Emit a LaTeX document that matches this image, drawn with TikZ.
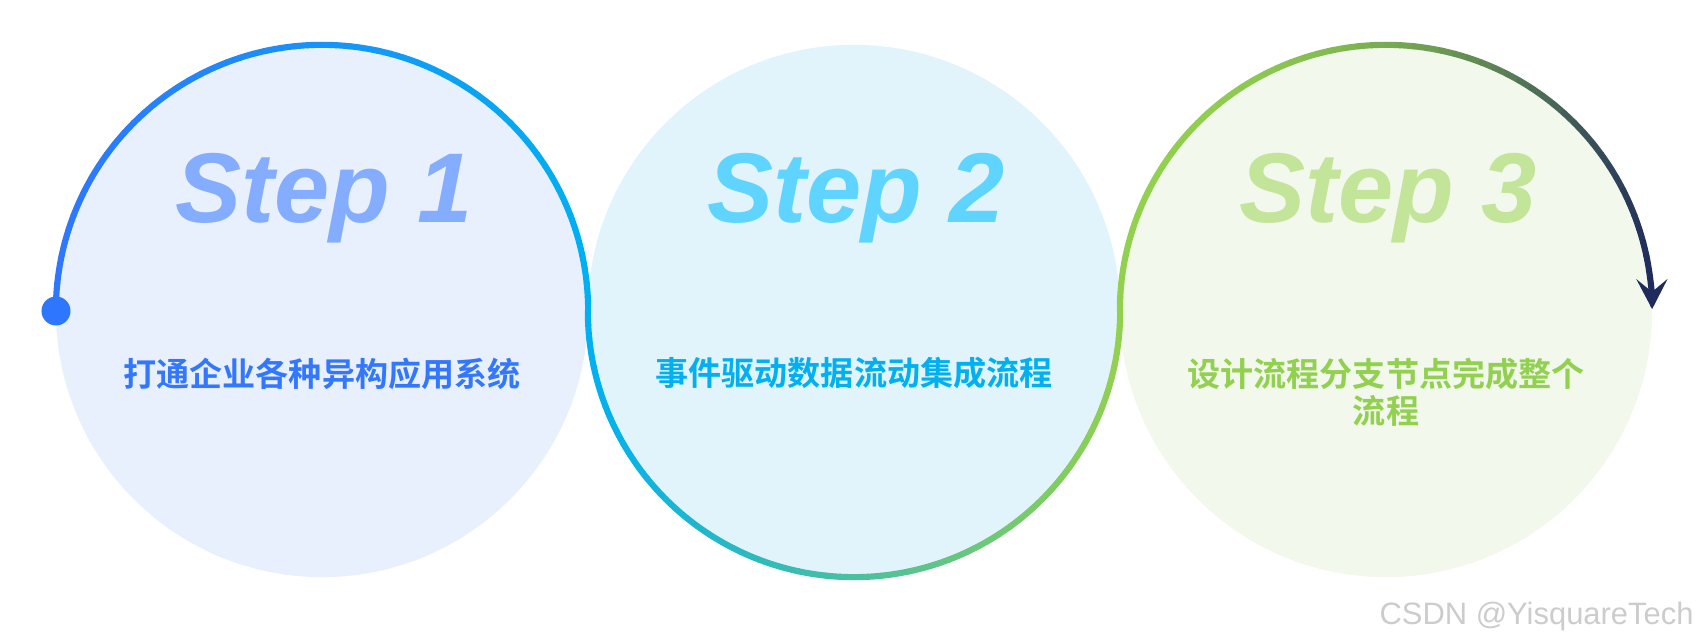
\documentclass[tikz,border=0pt]{standalone}
\usepackage{fontspec}
\setmainfont{Liberation Sans}
\newfontfamily\cjk{Noto Sans CJK SC}[UprightFont={* Bold}]
\usetikzlibrary{arrows.meta}
\definecolor{fillA}{HTML}{E9F0FD}
\definecolor{fillB}{HTML}{E1F4FC}
\definecolor{fillC}{HTML}{F2F8EC}
\definecolor{lnBlue}{HTML}{2F76FF}
\definecolor{lnCyan}{HTML}{00B0F0}
\definecolor{lnGreen}{HTML}{92D050}
\definecolor{lnNavy}{HTML}{1F2B5C}
\definecolor{stepA}{HTML}{85ADFF}
\definecolor{stepB}{HTML}{5FD4FF}
\definecolor{stepC}{HTML}{C3E59A}
\definecolor{txtA}{HTML}{3377FF}
\definecolor{txtB}{HTML}{00B0F0}
\definecolor{txtC}{HTML}{92D050}
\definecolor{wmgray}{HTML}{CCCCCC}
\tikzset{
  bigcircle/.style={circle, minimum size=5.32cm, inner sep=0pt, draw=none},
  steplabel/.style={anchor=base, font=\fontsize{28.2}{30}\selectfont\bfseries\itshape},
  desc/.style={align=center, font=\cjk\fontsize{9.4}{10.6}\selectfont},
  seg/.style={line width=1.75pt, line cap=round},
}
\begin{document}
\begin{tikzpicture}[x=0.01cm, y=0.01cm]
\useasboundingbox (0,0) rectangle (1708,643);
% filled circles
\node[bigcircle, fill=fillA] (c1) at (322,332) {};
\node[bigcircle, fill=fillB] (c2) at (854,332) {};
\node[bigcircle, fill=fillC] (c3) at (1386,332) {};
% arc over circle 1: blue -> cyan
\foreach \i in {0,...,59}{
  \pgfmathsetmacro{\aa}{180-3*\i}
  \pgfmathsetmacro{\ab}{180-3*(\i+1)}
  \pgfmathtruncatemacro{\p}{round(50*(1+cos(180-3*(\i+0.5))))}
  \draw[seg, color=lnCyan!\p!lnBlue] ([shift={(\aa:2.66cm)}]c1.center) arc[start angle=\aa, end angle=\ab, radius=2.66cm];
}
% arc under circle 2: cyan -> green
\foreach \i in {0,...,59}{
  \pgfmathsetmacro{\aa}{180+3*\i}
  \pgfmathsetmacro{\ab}{180+3*(\i+1)}
  \pgfmathtruncatemacro{\p}{round(50*(1+cos(180+3*(\i+0.5))))}
  \draw[seg, color=lnGreen!\p!lnCyan] ([shift={(\aa:2.66cm)}]c2.center) arc[start angle=\aa, end angle=\ab, radius=2.66cm];
}
% arc over circle 3: green -> navy
\foreach \i in {0,...,56}{
  \pgfmathsetmacro{\aa}{180-3*\i}
  \pgfmathsetmacro{\ab}{180-3*(\i+1)}
  \pgfmathsetmacro{\t}{0.5*(1+cos(180-3*(\i+0.5)))}
  \pgfmathtruncatemacro{\p}{round(100*(\t)^2.2)}
  \draw[seg, color=lnNavy!\p!lnGreen] ([shift={(\aa:2.66cm)}]c3.center) arc[start angle=\aa, end angle=\ab, radius=2.66cm];
}
\draw[seg, line cap=butt, color=lnNavy, -{Stealth[length=8.5pt, width=8.8pt, inset=3.6pt]}]
  ([shift={(9:2.66cm)}]c3.center) arc[start angle=9, end angle=0.4, radius=2.66cm];
% start dot
\node[circle, fill=lnBlue, minimum size=0.29cm, inner sep=0pt] (dot) at (56,332) {};
% step labels
\node[steplabel, text=stepA] (s1) at (324,420) {Step 1};
\node[steplabel, text=stepB] (s2) at (856,420) {Step 2};
\node[steplabel, text=stepC] (s3) at (1388,420) {Step 3};
% descriptions
\node[desc, text=txtA] (t1) at (322,269.5) {打通企业各种异构应用系统};
\node[desc, text=txtB] (t2) at (854,269.5) {事件驱动数据流动集成流程};
\node[desc, text=txtC] (t3) at (1386,250.8) {设计流程分支节点完成整个\\流程};
% watermark
\node[anchor=east, font=\fontsize{8.8}{10}\selectfont, text=wmgray] (wm) at (1706,26) {CSDN @YisquareTech};
\end{tikzpicture}
\end{document}
